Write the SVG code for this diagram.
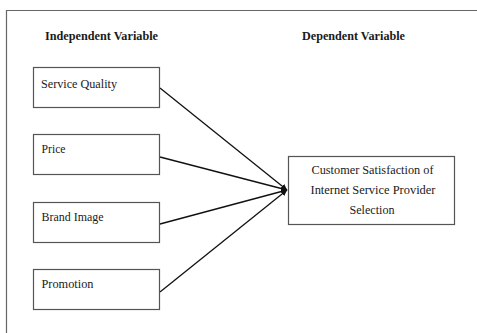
<svg xmlns="http://www.w3.org/2000/svg" width="477" height="333" viewBox="0 0 477 333">
<style>
.t{font-family:"Liberation Serif","Times New Roman",serif;font-size:13.5px;fill:#1a1a1a}
.h{font-weight:bold}
.box{fill:#fff;stroke:#555;stroke-width:1.2}
.c{stroke:#111;stroke-width:1.3;fill:none}
</style>
<defs>
<marker id="ah" viewBox="0 0 10 10" refX="10" refY="5" markerWidth="6" markerHeight="6" markerUnits="userSpaceOnUse" orient="auto">
<path d="M0,0 L10,5 L0,10 z" fill="#111"/>
</marker>
</defs>
<rect width="477" height="333" fill="#fff"/>
<path d="M6.5,333 V10.5 H477" fill="none" stroke="#666" stroke-width="1.2"/>
<text class="t h" x="45" y="40" textLength="113" lengthAdjust="spacingAndGlyphs">Independent Variable</text>
<text class="t h" x="302" y="40" textLength="103" lengthAdjust="spacingAndGlyphs">Dependent Variable</text>
<g id="connectors">
<line class="c" x1="160" y1="88" x2="287" y2="190" marker-end="url(#ah)"/>
<line class="c" x1="160" y1="157" x2="287" y2="190" marker-end="url(#ah)"/>
<line class="c" x1="160" y1="224" x2="287" y2="190" marker-end="url(#ah)"/>
<line class="c" x1="160" y1="292" x2="287" y2="190" marker-end="url(#ah)"/>
</g>
<g id="service-quality">
<rect class="box" x="33.5" y="67.5" width="126" height="40"/>
<text class="t" x="41" y="88" textLength="76" lengthAdjust="spacingAndGlyphs">Service Quality</text>
</g>
<g id="price">
<rect class="box" x="33.5" y="134.5" width="126" height="40"/>
<text class="t" x="41.5" y="152.5" textLength="24" lengthAdjust="spacingAndGlyphs">Price</text>
</g>
<g id="brand-image">
<rect class="box" x="33.5" y="202.5" width="126" height="40"/>
<text class="t" x="41.5" y="220.5" textLength="62" lengthAdjust="spacingAndGlyphs">Brand Image</text>
</g>
<g id="promotion">
<rect class="box" x="33.5" y="269.5" width="126" height="40"/>
<text class="t" x="41.5" y="288" textLength="52" lengthAdjust="spacingAndGlyphs">Promotion</text>
</g>
<g id="customer-satisfaction">
<rect class="box" x="288.5" y="156.5" width="166" height="68"/>
<text class="t" x="311.5" y="173.5" textLength="122" lengthAdjust="spacingAndGlyphs">Customer Satisfaction of</text>
<text class="t" x="310.5" y="194" textLength="125" lengthAdjust="spacingAndGlyphs">Internet Service Provider</text>
<text class="t" x="349.5" y="214" textLength="45" lengthAdjust="spacingAndGlyphs">Selection</text>
</g>
</svg>
